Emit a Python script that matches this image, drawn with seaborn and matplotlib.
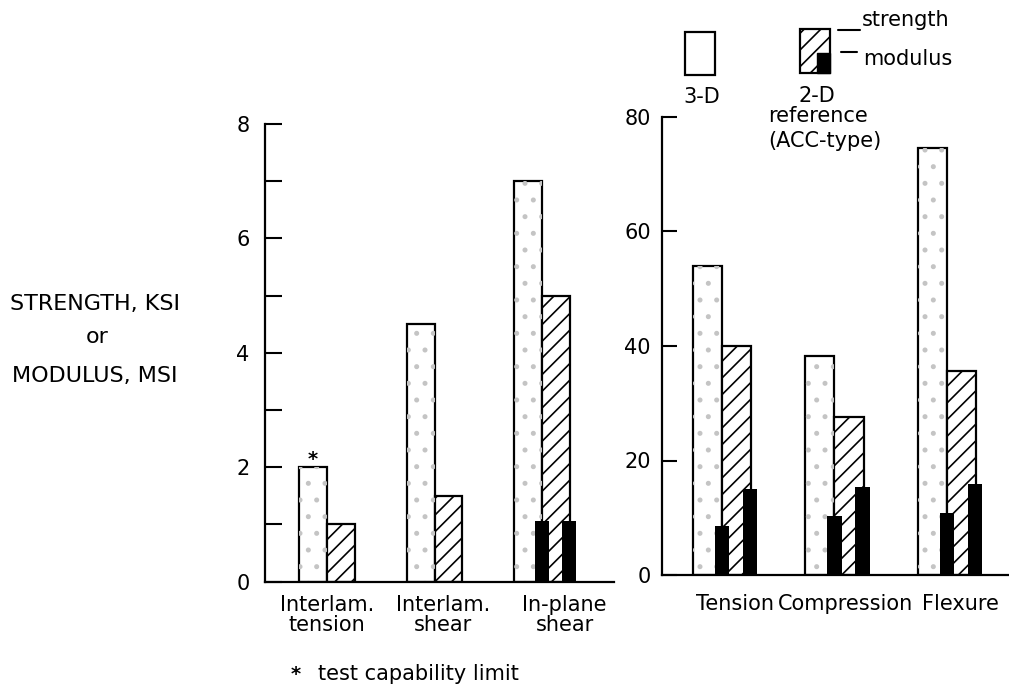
import numpy as np
import pandas as pd
import matplotlib
matplotlib.use("Agg")
import matplotlib.pyplot as plt
import seaborn as sns
from matplotlib.patches import Rectangle
from matplotlib.lines import Line2D

# ---------------- data ----------------
left_categories = ["Interlam.\ntension", "Interlam.\nshear", "In-plane\nshear"]
left_3d_strength = [2.0, 4.5, 7.0]
left_2d_strength = [1.0, 1.5, 5.0]
left_3d_modulus = [np.nan, np.nan, 1.05]
left_2d_modulus = [np.nan, np.nan, 1.05]
left_yticks = [0, 1, 2, 3, 4, 5, 6, 7, 8]
left_yticklabels = ["0", "", "2", "", "4", "", "6", "", "8"]

right_categories = ["Tension", "Compression", "Flexure"]
right_3d_strength = [54.0, 38.3, 74.6]
right_2d_strength = [40.0, 27.6, 35.6]
right_3d_modulus = [8.5, 10.3, 10.8]
right_2d_modulus = [15.0, 15.4, 15.9]
right_yticks = [0, 20, 40, 60, 80]

series_names = ["3-D", "2-D"]

# ---------------- style ----------------
sns.set_theme(style="white")
plt.rcParams["font.family"] = ["DejaVu Sans"]
for k in ["text.color", "axes.labelcolor", "xtick.color", "ytick.color", "axes.edgecolor"]:
    plt.rcParams[k] = "black"
plt.rcParams["hatch.linewidth"] = 1.2

W, H = 1009, 687
fig = plt.figure(figsize=(W / 100, H / 100), dpi=100)
fig.patch.set_facecolor("white")


def fx(x):
    return x / W


def fy(y):
    return 1 - y / H


axL = fig.add_axes([fx(265), fy(581.5), (614 - 265) / W, (581.5 - 124) / H])
axR = fig.add_axes([fx(662), fy(575), (1009 - 662) / W, (575 - 117) / H])

BW = 0.26  # single bar width


def draw_panel(ax, cats, s3, s2, m3, m2):
    df = pd.DataFrame({
        "category": list(cats) * 2,
        "type": [series_names[0]] * len(cats) + [series_names[1]] * len(cats),
        "value": list(s3) + list(s2),
    })
    sns.barplot(data=df, x="category", y="value", hue="type", order=cats,
                hue_order=series_names,
                palette={series_names[0]: "white", series_names[1]: "white"},
                width=2 * BW, edgecolor="black", linewidth=1.6, saturation=1,
                legend=False, errorbar=None, ax=ax, zorder=1)
    for bar in ax.containers[1]:
        bar.set_hatch("//")
    x = np.arange(len(cats))
    # light stipple on the 3-D bars
    ax.bar(x - BW / 2, s3, width=BW, facecolor="none", edgecolor="#c4c4c4",
           hatch=".", linewidth=0, zorder=1.5)
    # modulus bars
    ax.bar(x, m3, width=0.13, color="black", linewidth=0, zorder=2)
    ax.bar(x + 0.25, m2, width=0.13, color="black", linewidth=0, zorder=2)
    ax.set_xlabel("")
    ax.set_ylabel("")
    for s in ["top", "right"]:
        ax.spines[s].set_visible(False)
    for s in ["left", "bottom"]:
        ax.spines[s].set_linewidth(1.6)
        ax.spines[s].set_color("black")
    ax.set_facecolor("white")


draw_panel(axL, left_categories, left_3d_strength, left_2d_strength,
           left_3d_modulus, left_2d_modulus)
draw_panel(axR, right_categories, right_3d_strength, right_2d_strength,
           right_3d_modulus, right_2d_modulus)

# left panel axes
axL.set_ylim(0, 8)
axL.set_xlim(-0.577, 2.67)
axL.set_yticks(left_yticks, left_yticklabels)
axL.tick_params(axis="y", direction="in", length=12, width=1.5, labelsize=15,
                pad=11, left=True)
axL.set_xticks(np.arange(3) + np.array([0.0, 0.08, 0.21]), left_categories)
axL.tick_params(axis="x", length=0, labelsize=15, pad=10)
for t in axL.get_xticklabels():
    t.set_linespacing(1.0)

# right panel axes
axR.set_ylim(0, 80)
axR.set_xlim(-0.533, 2.551)
axR.set_yticks(right_yticks, [str(v) for v in right_yticks])
axR.tick_params(axis="y", direction="in", length=11, width=1.5, labelsize=15,
                pad=8, left=True)
axR.set_xticks(np.arange(3) + np.array([0.12, 0.10, 0.12]), right_categories)
axR.tick_params(axis="x", length=0, labelsize=15, pad=14)

# star marking test capability limit
axL.annotate("*", xy=(-BW / 2, left_3d_strength[0]), xytext=(0, -1),
             textcoords="offset points", ha="center", va="bottom", fontsize=14,
             fontweight="bold")

# y label
fig.text(fx(95), fy(310), "STRENGTH, KSI", ha="center", va="baseline", fontsize=16)
fig.text(fx(97), fy(343), "or", ha="center", va="baseline", fontsize=16)
fig.text(fx(95), fy(382), "MODULUS, MSI", ha="center", va="baseline", fontsize=16)

# footnote
fig.text(fx(296), fy(680), "*", ha="center", va="baseline", fontsize=14,
         fontweight="bold")
fig.text(fx(318), fy(680), "test capability limit", ha="left", va="baseline",
         fontsize=15)

# legend
fig.add_artist(Rectangle((fx(685), fy(75)), 30 / W, 43 / H, transform=fig.transFigure,
                         facecolor="white", edgecolor="black", linewidth=1.6))
fig.add_artist(Rectangle((fx(800), fy(73)), 30 / W, 44 / H, transform=fig.transFigure,
                         facecolor="white", edgecolor="black", linewidth=1.6,
                         hatch="//"))
fig.add_artist(Rectangle((fx(817), fy(73)), 13 / W, 20 / H, transform=fig.transFigure,
                         facecolor="black", edgecolor="black", linewidth=1.0))
fig.add_artist(Line2D([fx(838), fx(860)], [fy(30), fy(30)], transform=fig.transFigure,
                      color="black", linewidth=1.5))
fig.add_artist(Line2D([fx(841), fx(857)], [fy(52), fy(52)], transform=fig.transFigure,
                      color="black", linewidth=1.5))
fig.text(fx(862), fy(26), "strength", ha="left", va="baseline", fontsize=15)
fig.text(fx(863), fy(65), "modulus", ha="left", va="baseline", fontsize=15)
fig.text(fx(702), fy(103), "3-D", ha="center", va="baseline", fontsize=15)
fig.text(fx(817), fy(102), "2-D", ha="center", va="baseline", fontsize=15)
fig.text(fx(818), fy(122), "reference", ha="center", va="baseline", fontsize=15)
fig.text(fx(825), fy(147), "(ACC-type)", ha="center", va="baseline", fontsize=15)

fig.savefig("out.png", dpi=100, facecolor="white")
